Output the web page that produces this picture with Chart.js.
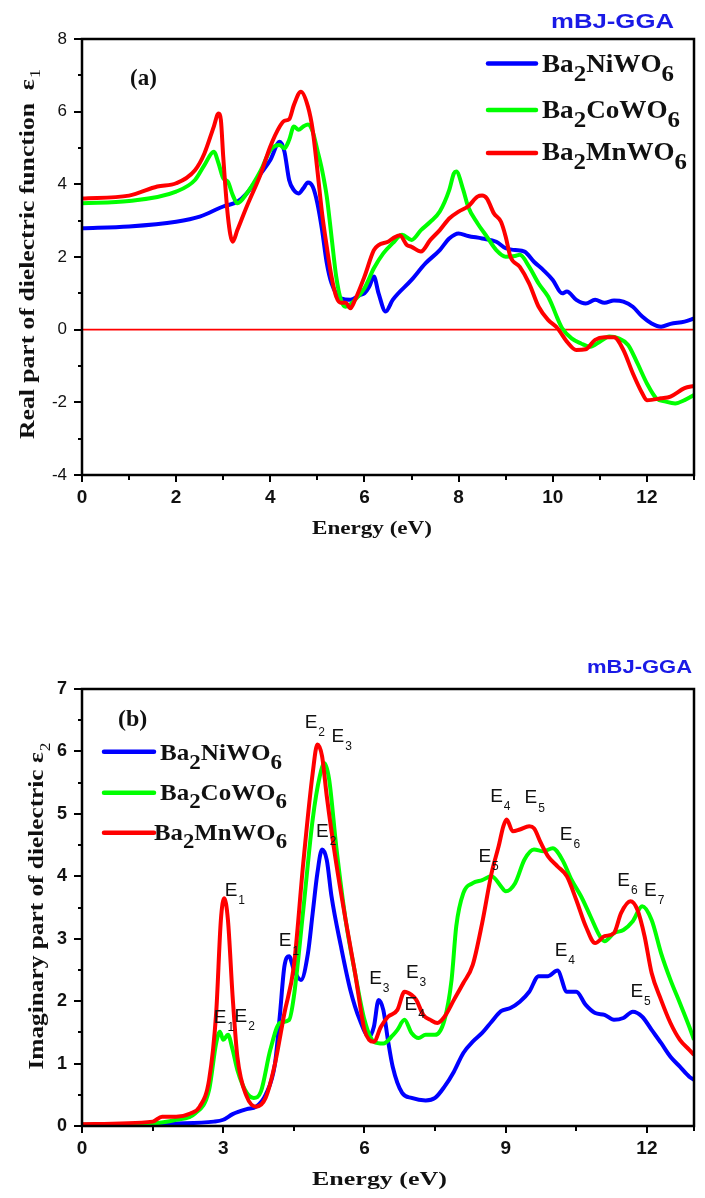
<!DOCTYPE html>
<html>
<head>
<meta charset="utf-8">
<script src="https://cdn.jsdelivr.net/npm/chart.js@4.4.1/dist/chart.umd.min.js"></script>
<style>
  html, body { margin:0; padding:0; background:#fff; }
  #wrap { position:relative; width:705px; height:1198px; }
  #realChart { position:absolute; left:0; top:0; }
  #imagChart { position:absolute; left:0; top:600px; }
</style>
</head>
<body>
<div id="wrap">
  <canvas id="realChart" width="705" height="560"></canvas>
  <canvas id="imagChart" width="705" height="598"></canvas>
</div>
<script>
// ---- data: [energy (eV), value] ----
// (a) real part eps1
const niReal = [[0,2.79],[1,2.84],[2,2.97],[2.5,3.11],[3,3.39],[3.3,3.52],[3.5,3.75],[3.8,4.3],[4,4.67],[4.2,5.17],[4.3,4.9],[4.4,4.12],[4.5,3.84],[4.6,3.75],[4.7,3.89],[4.8,4.05],[4.9,3.94],[5,3.48],[5.1,2.74],[5.2,1.83],[5.3,1.28],[5.5,0.86],[5.7,0.82],[5.9,0.95],[6,1.0],[6.1,1.18],[6.2,1.46],[6.3,1.0],[6.45,0.5],[6.6,0.82],[7,1.37],[7.3,1.83],[7.6,2.19],[7.8,2.51],[8,2.65],[8.2,2.58],[8.5,2.51],[8.8,2.42],[9,2.24],[9.2,2.19],[9.4,2.15],[9.6,1.87],[9.8,1.64],[10,1.37],[10.2,1.0],[10.3,1.05],[10.5,0.82],[10.7,0.72],[10.9,0.82],[11.1,0.74],[11.3,0.8],[11.5,0.77],[11.7,0.63],[11.9,0.36],[12.1,0.17],[12.3,0.08],[12.5,0.16],[12.8,0.22],[13,0.31]];
const coReal = [[0,3.48],[1,3.54],[2,3.8],[2.4,4.12],[2.6,4.53],[2.8,4.9],[2.9,4.58],[3,4.17],[3.1,4.07],[3.2,3.71],[3.3,3.48],[3.5,3.75],[3.8,4.39],[4,4.94],[4.2,5.08],[4.3,4.99],[4.4,5.22],[4.5,5.59],[4.6,5.5],[4.7,5.59],[4.8,5.65],[4.9,5.45],[5,4.94],[5.1,4.39],[5.2,3.66],[5.3,2.56],[5.4,1.46],[5.5,0.82],[5.6,0.63],[5.8,0.82],[6,1.14],[6.2,1.69],[6.4,2.1],[6.6,2.38],[6.8,2.61],[7,2.47],[7.2,2.74],[7.4,2.97],[7.6,3.25],[7.8,3.84],[7.9,4.3],[7.95,4.35],[8.1,3.84],[8.2,3.39],[8.4,2.93],[8.6,2.56],[8.8,2.19],[9,2.01],[9.2,2.03],[9.3,2.06],[9.5,1.73],[9.7,1.27],[9.9,0.91],[10,0.63],[10.1,0.31],[10.2,0.04],[10.4,-0.24],[10.6,-0.38],[10.8,-0.47],[11,-0.33],[11.2,-0.19],[11.4,-0.24],[11.6,-0.42],[11.8,-0.93],[12,-1.48],[12.2,-1.89],[12.4,-1.98],[12.6,-2.03],[12.8,-1.94],[13,-1.8]];
const mnReal = [[0,3.61],[1,3.69],[1.6,3.94],[2,4.03],[2.4,4.39],[2.6,4.85],[2.8,5.59],[2.9,5.95],[2.95,5.77],[3,4.76],[3.1,3.11],[3.2,2.42],[3.3,2.74],[3.5,3.39],[3.8,4.3],[4,5.04],[4.2,5.59],[4.3,5.75],[4.4,5.79],[4.5,6.18],[4.65,6.55],[4.8,6.14],[4.9,5.5],[5,4.39],[5.1,3.2],[5.2,2.28],[5.3,1.46],[5.4,0.91],[5.5,0.74],[5.6,0.74],[5.7,0.59],[5.8,0.82],[6,1.46],[6.2,2.19],[6.3,2.33],[6.5,2.42],[6.6,2.51],[6.75,2.6],[6.9,2.33],[7,2.28],[7.2,2.15],[7.4,2.47],[7.6,2.74],[7.8,3.06],[8,3.25],[8.2,3.39],[8.4,3.66],[8.5,3.69],[8.6,3.61],[8.75,3.2],[8.9,2.97],[9,2.56],[9.1,2.01],[9.3,1.73],[9.5,1.27],[9.7,0.63],[9.9,0.27],[10.1,0.04],[10.3,-0.33],[10.5,-0.56],[10.7,-0.54],[10.9,-0.28],[11.1,-0.21],[11.3,-0.21],[11.5,-0.56],[11.7,-1.2],[11.9,-1.75],[12,-1.94],[12.3,-1.89],[12.5,-1.84],[12.8,-1.61],[13,-1.55]];
const zeroLine = [[0,0],[13,0]];

// (b) imaginary part eps2
const niImag = [[0,0.02],[2,0.04],[2.8,0.07],[3,0.1],[3.2,0.19],[3.5,0.27],[3.7,0.31],[3.9,0.5],[4.1,1.0],[4.2,1.75],[4.3,2.56],[4.4,2.72],[4.5,2.5],[4.65,2.34],[4.8,2.77],[4.9,3.41],[5,4.05],[5.1,4.43],[5.2,4.26],[5.3,3.68],[5.5,2.88],[5.7,2.18],[5.9,1.7],[6.1,1.43],[6.2,1.59],[6.3,2.02],[6.4,1.86],[6.5,1.37],[6.6,0.95],[6.8,0.53],[7,0.45],[7.3,0.41],[7.5,0.45],[7.7,0.63],[7.9,0.87],[8.1,1.17],[8.3,1.35],[8.5,1.49],[8.7,1.67],[8.9,1.84],[9.1,1.89],[9.3,1.99],[9.5,2.15],[9.7,2.4],[9.9,2.4],[10.1,2.49],[10.3,2.15],[10.5,2.15],[10.7,1.94],[10.9,1.81],[11.1,1.78],[11.3,1.7],[11.5,1.73],[11.7,1.83],[11.9,1.75],[12.1,1.54],[12.3,1.33],[12.5,1.11],[12.7,0.95],[12.9,0.79],[13,0.74]];
const coImag = [[0,0.02],[1.5,0.04],[2,0.1],[2.4,0.2],[2.7,0.58],[2.85,1.33],[2.93,1.51],[3,1.38],[3.1,1.46],[3.2,1.22],[3.3,0.9],[3.5,0.53],[3.65,0.45],[3.8,0.55],[4,1.22],[4.2,1.65],[4.4,1.7],[4.5,2.07],[4.7,3.46],[4.9,4.91],[5.05,5.6],[5.15,5.81],[5.25,5.55],[5.4,4.48],[5.6,3.3],[5.8,2.45],[6,1.7],[6.2,1.35],[6.4,1.32],[6.6,1.45],[6.7,1.54],[6.85,1.7],[7,1.49],[7.15,1.41],[7.3,1.46],[7.5,1.46],[7.7,1.7],[7.85,2.34],[7.95,3.2],[8.1,3.73],[8.3,3.89],[8.5,3.94],[8.7,4.0],[8.9,3.84],[9,3.76],[9.2,3.89],[9.4,4.27],[9.6,4.43],[9.8,4.4],[10,4.45],[10.2,4.27],[10.4,3.94],[10.6,3.68],[10.8,3.36],[11,3.04],[11.1,2.96],[11.3,3.09],[11.5,3.14],[11.7,3.28],[11.9,3.52],[12.1,3.3],[12.3,2.77],[12.5,2.34],[12.7,1.97],[12.9,1.59],[13,1.38]];
const mnImag = [[0,0.03],[1.5,0.07],[1.7,0.15],[2,0.15],[2.3,0.2],[2.5,0.31],[2.7,0.74],[2.85,1.81],[2.95,3.3],[3.02,3.65],[3.1,3.3],[3.2,2.07],[3.3,1.11],[3.5,0.47],[3.7,0.31],[3.9,0.45],[4.1,1.0],[4.3,1.81],[4.5,2.56],[4.7,4.21],[4.9,5.65],[5,6.11],[5.1,5.92],[5.2,5.28],[5.4,4.21],[5.6,3.3],[5.8,2.45],[6,1.54],[6.1,1.38],[6.2,1.35],[6.35,1.59],[6.5,1.75],[6.7,1.86],[6.85,2.15],[7,2.1],[7.1,2.02],[7.25,1.78],[7.4,1.7],[7.55,1.65],[7.7,1.75],[7.9,2.02],[8.1,2.29],[8.3,2.58],[8.5,3.25],[8.7,4.05],[8.85,4.48],[8.95,4.8],[9.02,4.91],[9.15,4.72],[9.3,4.75],[9.5,4.8],[9.6,4.77],[9.75,4.53],[9.9,4.32],[10.1,4.16],[10.3,4.0],[10.5,3.62],[10.7,3.2],[10.9,2.93],[11.1,3.04],[11.3,3.09],[11.45,3.41],[11.65,3.6],[11.8,3.46],[11.95,3.04],[12.1,2.45],[12.3,2.02],[12.5,1.65],[12.7,1.38],[12.9,1.22],[13,1.14]];

// peak tags in (b): [subscript, energy, eps2] (anchor = left of the E)
const peakTags = [['1',3.03,3.77],['1',2.8,1.73],['2',3.24,1.75],['1',4.18,2.96],['2',4.73,6.46],['3',5.3,6.24],['2',4.97,4.72],['3',6.1,2.36],['3',6.88,2.45],['4',6.85,1.94],['5',8.42,4.32],['4',8.67,5.28],['5',9.4,5.25],['6',10.15,4.66],['6',11.37,3.93],['7',11.94,3.77],['4',10.04,2.81],['5',11.65,2.15]];

const compounds = ['Ba2NiWO6','Ba2CoWO6','Ba2MnWO6'];
const xTicksA = [0,2,4,6,8,10,12];
const yTicksA = [-4,-2,0,2,4,6,8];
const xTicksB = [0,3,6,9,12];
const yTicksB = [0,1,2,3,4,5,6,7];

const BLUE = '#0000ff', GREEN = '#00ff00', RED = '#ff0000';
const SERIF = '"Liberation Serif", "Times New Roman", serif';
const SANS = '"Liberation Sans", Arial, sans-serif';

const pts = arr => arr.map(p => ({x:p[0], y:p[1]}));
const onList = (list, v) => list.some(t => Math.abs(t - v) < 1e-6);

function curve(data, color){
  return { data: pts(data), borderColor: color, backgroundColor: color, borderWidth: 4,
           pointRadius: 0, fill: false, cubicInterpolationMode: 'monotone' };
}

// draws "Ba2NiWO6" style text with digits as subscripts, stretched to width w
function formula(ctx, str, x, base, size, w){
  const parts = str.split(/(\d)/).filter(s => s);
  const fMain = 'bold ' + size + 'px ' + SERIF, fSub = 'bold ' + Math.round(size*0.9) + 'px ' + SERIF;
  let nat = 0;
  parts.forEach(p => { ctx.font = /\d/.test(p) ? fSub : fMain; nat += ctx.measureText(p).width; });
  ctx.save();
  ctx.translate(x, base); ctx.scale(w / nat, 1);
  ctx.fillStyle = '#111'; ctx.textBaseline = 'alphabetic'; ctx.textAlign = 'left';
  let cx = 0;
  parts.forEach(p => {
    const sub = /\d/.test(p);
    ctx.font = sub ? fSub : fMain;
    ctx.fillText(p, cx, sub ? size*0.36 : 0);
    cx += ctx.measureText(p).width;
  });
  ctx.restore();
}

function stretched(ctx, text, x, base, font, w, color){
  ctx.save();
  ctx.font = font;
  const nat = ctx.measureText(text).width;
  ctx.translate(x, base); ctx.scale(w / nat, 1);
  ctx.fillStyle = color || '#111'; ctx.textBaseline = 'alphabetic'; ctx.textAlign = 'left';
  ctx.fillText(text, 0, 0);
  ctx.restore();
}

// rotated axis title with subscript, centred on cy, baseline at bx
function vTitle(ctx, text, sub, bx, cy, size, len){
  ctx.save();
  ctx.translate(bx, cy); ctx.rotate(-Math.PI/2);
  const fMain = 'bold ' + size + 'px ' + SERIF, fSub = Math.round(size*0.7) + 'px ' + SERIF;
  ctx.font = fMain; const w1 = ctx.measureText(text).width;
  ctx.font = fSub; const w2 = ctx.measureText(sub).width;
  const nat = w1 + w2 + 1;
  ctx.scale(len / nat, 1);
  ctx.fillStyle = '#111'; ctx.textBaseline = 'alphabetic'; ctx.textAlign = 'left';
  ctx.font = fMain; ctx.fillText(text, -nat/2, 0);
  ctx.font = fSub; ctx.fillText(sub, -nat/2 + w1 + 1, size*0.3);
  ctx.restore();
}

function frameAndTicks(chart, xList, yList){
  const {ctx, chartArea:a, scales:{x, y}} = chart;
  ctx.save();
  ctx.strokeStyle = '#000';
  ctx.lineWidth = 2;
  ctx.beginPath();
  x.ticks.forEach(t => {
    const px = Math.round(x.getPixelForValue(t.value));
    const len = onList(xList, t.value) ? 7 : 5;
    ctx.moveTo(px, a.bottom); ctx.lineTo(px, a.bottom + len);
  });
  y.ticks.forEach(t => {
    const py = Math.round(y.getPixelForValue(t.value));
    const len = onList(yList, t.value) ? 8 : 4;
    ctx.moveTo(a.left, py); ctx.lineTo(a.left - len, py);
  });
  ctx.stroke();
  ctx.lineWidth = 2.5;
  ctx.strokeRect(a.left, a.top, a.right - a.left, a.bottom - a.top);
  ctx.restore();
}

function legendRows(ctx, rows){
  const colors = [BLUE, GREEN, RED];
  rows.forEach((r, i) => {
    ctx.save();
    ctx.strokeStyle = colors[i]; ctx.lineWidth = 4.5; ctx.lineCap = 'round';
    ctx.beginPath(); ctx.moveTo(r.x1, r.ly); ctx.lineTo(r.x2, r.ly); ctx.stroke();
    ctx.restore();
    formula(ctx, compounds[i], r.tx, r.base, r.size, r.w);
  });
}

function baseOptions(xList, yList, xMax, yMin, yMax, xStep, yStep, padTop, xH, yFontBold, yFontSize){
  return {
    responsive: false, animation: false, devicePixelRatio: 1,
    layout: { padding: { top: padTop, right: 2, left: 0, bottom: 0 } },
    plugins: { legend: { display: false }, tooltip: { enabled: false } },
    scales: {
      x: {
        type: 'linear', min: 0, max: xMax,
        grid: { display: false, drawTicks: false }, border: { display: false },
        afterFit: s => { s.height = xH; },
        ticks: { stepSize: xStep, autoSkip: false, maxRotation: 0, padding: 11, color: '#111',
                 font: { family: SANS, size: 19, weight: 'bold' },
                 callback: v => onList(xList, v) ? String(Math.round(v)) : '' }
      },
      y: {
        type: 'linear', min: yMin, max: yMax,
        grid: { display: false, drawTicks: false }, border: { display: false },
        afterFit: s => { s.width = 82; },
        ticks: { stepSize: yStep, autoSkip: false, padding: 15, color: '#111',
                 font: { family: SANS, size: yFontSize, weight: yFontBold ? 'bold' : 'normal' },
                 callback: v => onList(yList, v) ? String(Math.round(v)) : '' }
      }
    }
  };
}

// ---------- (a) real part ----------
const optsA = baseOptions(xTicksA, yTicksA, 13, -4, 8, 1, 1, 39, 85, false, 17);
new Chart(document.getElementById('realChart'), {
  type: 'line',
  data: { datasets: [
    curve(mnReal, RED),
    curve(coReal, GREEN),
    curve(niReal, BLUE),
    Object.assign(curve(zeroLine, RED), { borderWidth: 1.6, cubicInterpolationMode: 'default' })
  ]},
  options: optsA,
  plugins: [{
    id: 'decorA',
    afterDraw(chart){
      const ctx = chart.ctx;
      frameAndTicks(chart, xTicksA, yTicksA);
      vTitle(ctx, 'Real part of dielectric function  \u03b5', '1', 34, 254, 20, 370);
      stretched(ctx, 'Energy (eV)', 312, 534, 'bold 18px ' + SERIF, 120);
      stretched(ctx, 'mBJ-GGA', 551, 28, 'bold 21px ' + SANS, 123, '#1a1ae6');
      ctx.save(); ctx.font = 'bold 23px ' + SERIF; ctx.fillStyle = '#111';
      ctx.fillText('(a)', 130, 85); ctx.restore();
      legendRows(ctx, [
        { x1: 488, x2: 536, ly: 63.5, tx: 542, base: 72, size: 25, w: 132 },
        { x1: 488, x2: 536, ly: 110, tx: 542, base: 117.5, size: 25, w: 138 },
        { x1: 488, x2: 536, ly: 153, tx: 542, base: 160, size: 25, w: 145 }
      ]);
    }
  }]
});

// ---------- (b) imaginary part ----------
const optsB = baseOptions(xTicksB, yTicksB, 13, 0, 7, 1.5, 0.5, 89, 72, true, 18);
new Chart(document.getElementById('imagChart'), {
  type: 'line',
  data: { datasets: [
    curve(mnImag, RED),
    curve(coImag, GREEN),
    curve(niImag, BLUE)
  ]},
  options: optsB,
  plugins: [{
    id: 'decorB',
    afterDraw(chart){
      const ctx = chart.ctx;
      const {x, y} = chart.scales;
      frameAndTicks(chart, xTicksB, yTicksB);
      vTitle(ctx, 'Imaginary part of dielectric \u03b5', '2', 43, 306, 22, 327);
      stretched(ctx, 'Energy (eV)', 312, 585, 'bold 18px ' + SERIF, 135);
      stretched(ctx, 'mBJ-GGA', 587, 73, 'bold 18px ' + SANS, 105, '#1a1ae6');
      ctx.save(); ctx.font = 'bold 24px ' + SERIF; ctx.fillStyle = '#111';
      ctx.fillText('(b)', 118, 126); ctx.restore();
      legendRows(ctx, [
        { x1: 104, x2: 154, ly: 151.7, tx: 160, base: 160, size: 24, w: 122 },
        { x1: 104, x2: 154, ly: 192.7, tx: 160, base: 199.5, size: 24, w: 127 },
        { x1: 104, x2: 154, ly: 232.7, tx: 154, base: 239.5, size: 24, w: 133 }
      ]);
      // peak tags
      ctx.save();
      ctx.fillStyle = '#111'; ctx.textAlign = 'left'; ctx.textBaseline = 'middle';
      peakTags.forEach(t => {
        const px = x.getPixelForValue(t[1]), py = y.getPixelForValue(t[2]);
        ctx.font = '19px ' + SANS;
        ctx.fillText('E', px, py);
        const w = ctx.measureText('E').width;
        ctx.font = '12px ' + SANS;
        ctx.fillText(t[0], px + w + 1, py + 10);
      });
      ctx.restore();
    }
  }]
});
</script>
</body>
</html>
